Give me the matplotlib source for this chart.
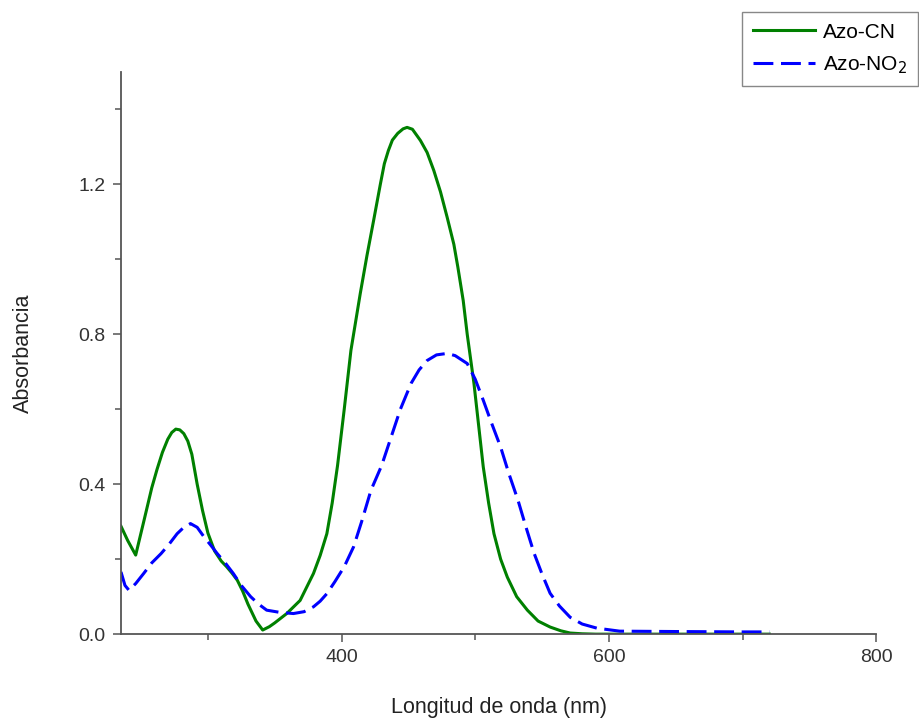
import matplotlib

matplotlib.use("Agg")
import matplotlib.pyplot as plt
from matplotlib.ticker import MultipleLocator

plt.rcParams["font.family"] = ["Liberation Sans", "DejaVu Sans"]

# Azo-CN (solid green)
cn_nm = [235, 240, 246, 252, 258, 262, 266, 270, 273, 276, 279, 282, 285,
         288, 292, 296, 300, 305, 310, 314, 318, 322, 326, 330, 336, 341,
         346, 350, 359, 369, 379, 384, 389, 393, 397, 402, 407, 414, 419,
         424, 429, 432, 435, 438, 442, 446, 449, 453, 459, 464, 469, 474,
         479, 484, 487, 491, 494, 499, 506, 510, 514, 519, 524, 531, 539,
         547, 556, 564, 571, 580, 590, 620, 660, 720]
cn_abs = [0.288, 0.25, 0.211, 0.30, 0.39, 0.44, 0.485, 0.52, 0.538, 0.547,
          0.545, 0.535, 0.515, 0.48, 0.40, 0.33, 0.27, 0.222, 0.195, 0.18,
          0.163, 0.144, 0.115, 0.08, 0.035, 0.011, 0.02, 0.03, 0.055, 0.09,
          0.162, 0.21, 0.268, 0.35, 0.45, 0.60, 0.757, 0.909, 1.01, 1.104,
          1.20, 1.255, 1.29, 1.318, 1.336, 1.348, 1.352, 1.347, 1.317,
          1.285, 1.237, 1.18, 1.112, 1.04, 0.979, 0.89, 0.80, 0.67, 0.446,
          0.35, 0.268, 0.20, 0.152, 0.10, 0.064, 0.035, 0.019, 0.009, 0.003,
          0.001, 0.0, 0.0, 0.0, 0.0]

# Azo-NO2 (dashed blue)
no2_nm = [235, 238, 241, 246, 252, 258, 265, 271, 277, 282, 287, 292, 297,
          302, 307, 313, 319, 325, 332, 338, 344, 354, 364, 372, 379, 384,
          389, 395, 402, 409, 415, 422, 430, 437, 444, 452, 458, 464, 471,
          479, 485, 494, 500, 506, 512, 519, 525, 532, 538, 544, 550, 556,
          563, 571, 580, 591, 608, 650, 700, 720]
no2_abs = [0.166, 0.13, 0.117, 0.135, 0.162, 0.19, 0.215, 0.24, 0.268, 0.285,
           0.295, 0.285, 0.26, 0.238, 0.215, 0.19, 0.162, 0.13, 0.10, 0.08,
           0.064, 0.058, 0.055, 0.06, 0.073, 0.088, 0.108, 0.14, 0.18, 0.233,
           0.30, 0.384, 0.45, 0.525, 0.60, 0.669, 0.705, 0.73, 0.745, 0.749,
           0.743, 0.722, 0.68, 0.624, 0.565, 0.499, 0.43, 0.357, 0.285,
           0.216, 0.16, 0.109, 0.075, 0.045, 0.027, 0.016, 0.008, 0.007,
           0.006, 0.006]

SPINE = "#555555"

fig = plt.figure(figsize=(9.2, 7.19), dpi=100)
ax = fig.add_axes([0.1315, 0.118, 0.821, 0.782])

ax.plot(cn_nm, cn_abs, color="#008000", lw=2.2, label="Azo-CN")
ax.plot(no2_nm, no2_abs, color="#0000ff", lw=2.2, dashes=(6.5, 2.5),
        label="Azo-NO$_2$")

ax.set_xlim(235, 800)
ax.set_ylim(0, 1.5)
ax.xaxis.set_major_locator(MultipleLocator(200))
ax.xaxis.set_minor_locator(MultipleLocator(100))
ax.yaxis.set_major_locator(MultipleLocator(0.4))
ax.yaxis.set_minor_locator(MultipleLocator(0.2))
ax.yaxis.set_major_formatter(lambda v, p: f"{v:.1f}")

for s in ("top", "right"):
    ax.spines[s].set_visible(False)
for s in ("left", "bottom"):
    ax.spines[s].set_color(SPINE)
    ax.spines[s].set_linewidth(1.3)
ax.tick_params(which="major", length=6, width=1.1, color=SPINE,
               labelsize=14, labelcolor="#333333", pad=5)
ax.tick_params(which="minor", length=4, width=1.1, color=SPINE)

ax.set_xlabel("Longitud de onda (nm)", fontsize=15.5, color="#222222",
              labelpad=22)
ax.set_ylabel("Absorbancia", fontsize=15.5, color="#222222", labelpad=32)

leg = fig.legend(loc="upper right", bbox_to_anchor=(0.998, 0.983),
                 fontsize=15, frameon=True, fancybox=False, framealpha=1,
                 handlelength=3.0, borderpad=0.5, labelspacing=0.6,
                 handletextpad=0.4, borderaxespad=0)
leg.get_frame().set_edgecolor("#888888")
leg.get_frame().set_linewidth(1.0)

fig.savefig("out.png", dpi=100)
